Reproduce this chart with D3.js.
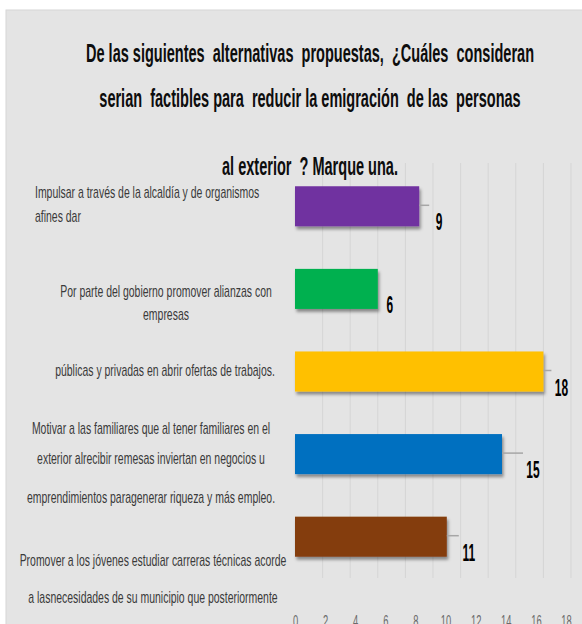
<!DOCTYPE html>
<head>
    <meta charset="utf-8">
    <script src="https://d3js.org/d3.v7.min.js"></script>
    <style>
        body { margin:0;position:fixed;top:0;right:0;bottom:0;left:0;background:white; }

        .panel { fill: #e4e4e4; stroke: #d6d6d6; }
        .grid-line { stroke: #d5d5d5; stroke-width: 1; }
        .title { font-family: 'Liberation Sans', Arial, sans-serif; font-weight: bold; font-size: 26px; fill: #0d0d0d; white-space: pre; }
        .cat-label { font-family: 'Liberation Sans', Arial, sans-serif; font-size: 17px; fill: #3a3a3a; }
        .value-label { font-family: 'Liberation Sans', Arial, sans-serif; font-weight: bold; font-size: 23px; fill: #000; }
        .leader { stroke: #a6a6a6; stroke-width: 1.5; }
        .axis text { font-family: 'Liberation Sans', Arial, sans-serif; font-size: 17px; fill: #6b6b6b; }
    </style>
</head>

<body>
  <script>
    // data
    const titleLines = [
        'De las siguientes  alternativas  propuestas,  ¿Cuáles  consideran',
        'serian  factibles para  reducir la emigración  de las  personas',
        'al exterior  ? Marque una.'
    ];
    const categories = [
        ['Impulsar a través de la alcaldía y de organismos', 'afines dar'],
        ['Por parte del gobierno promover alianzas con', 'empresas'],
        ['públicas y privadas en abrir ofertas de trabajos.'],
        ['Motivar a las familiares que al tener familiares en el',
         'exterior alrecibir remesas inviertan en negocios u',
         'emprendimientos paragenerar riqueza y más empleo.'],
        ['Promover a los jóvenes estudiar carreras técnicas acorde',
         'a lasnecesidades de su municipio que posteriormente']
    ];
    const values = [9, 6, 18, 15, 11];
    const colors = ['#7030a0', '#00b050', '#ffc000', '#0070c0', '#843c0c'];
    const xTicks = [0, 2, 4, 6, 8, 10, 12, 14, 16, 18];
    const gridTicks = [2, 4, 6, 8, 10, 12, 14, 16, 18, 20];

    // layout (label placement as it sits in the picture)
    const titleX = 310;
    const titleY = [62, 107, 175];
    const titleWidth = 448;
    const labelLayout = [
        {anchor: 'start', x: 35, dy: [-14, 10]},
        {anchor: 'middle', x: 166, dy: [2, 25]},
        {anchor: 'middle', x: 165, dy: [-1]},
        {anchor: 'middle', x: 151, dy: [-26, 4, 43]},
        {anchor: 'middle', x: 153, dy: [23, 60]}
    ];
    const valueDx = [20, 12, 18, 31, 22];

    const width = 582;
    const height = 624;

    const xScale = d3.scaleLinear().domain([0, 20]).range([295, 571]);
    const tickScale = d3.scaleLinear().domain([0, 18]).range([295, 566]);
    const yScale = d3.scaleBand()
        .domain(d3.range(values.length))
        .range([165, 578])
        .paddingInner(0.515)
        .paddingOuter(0.2575);

    const svg = d3.select('body').append('svg')
        .attr('width', width)
        .attr('height', height);

    const defs = svg.append('defs');
    defs.append('filter')
        .attr('id', 'shadow')
        .attr('x', '-10%').attr('y', '-20%')
        .attr('width', '130%').attr('height', '160%')
      .append('feDropShadow')
        .attr('dx', 1.5).attr('dy', 3)
        .attr('stdDeviation', 1.6)
        .attr('flood-color', '#000')
        .attr('flood-opacity', 0.4);

    svg.append('rect')
        .attr('class', 'panel')
        .attr('x', 6).attr('y', 10)
        .attr('width', width).attr('height', height);

    // squeeze text horizontally, the picture is narrow
    function squeeze(selection, k) {
        selection.each(function() {
            const w = this.getComputedTextLength();
            d3.select(this)
                .attr('textLength', w * k)
                .attr('lengthAdjust', 'spacingAndGlyphs');
        });
    }

    svg.append('g')
        .selectAll('line')
        .data(gridTicks)
        .enter().append('line')
        .attr('class', 'grid-line')
        .attr('x1', d => xScale(d)).attr('x2', d => xScale(d))
        .attr('y1', 163).attr('y2', 578);

    const title = svg.append('g')
        .selectAll('text')
        .data(titleLines)
        .enter().append('text')
        .attr('class', 'title')
        .attr('x', titleX)
        .attr('y', (d, i) => titleY[i])
        .attr('text-anchor', 'middle')
        .text(d => d);
    const titleK = titleWidth / title.node().getComputedTextLength();
    title.call(squeeze, titleK);

    const bars = svg.append('g');
    bars.selectAll('rect')
        .data(values)
        .enter().append('rect')
        .attr('x', xScale(0))
        .attr('y', (d, i) => yScale(i))
        .attr('width', d => xScale(d) - xScale(0))
        .attr('height', yScale.bandwidth())
        .attr('fill', (d, i) => colors[i])
        .attr('filter', 'url(#shadow)');

    const mid = i => yScale(i) + yScale.bandwidth() / 2;
    const labelX = (d, i) => xScale(d) + valueDx[i];

    svg.append('g')
        .selectAll('line')
        .data(values.map((d, i) => ({d, i})).filter(o => labelX(o.d, o.i) - 10 - xScale(o.d) > 3))
        .enter().append('line')
        .attr('class', 'leader')
        .attr('x1', o => xScale(o.d))
        .attr('x2', o => labelX(o.d, o.i) - 10)
        .attr('y1', o => mid(o.i) - 1)
        .attr('y2', o => mid(o.i) - 1);

    svg.append('g')
        .selectAll('text')
        .data(values)
        .enter().append('text')
        .attr('class', 'value-label')
        .attr('x', labelX)
        .attr('y', (d, i) => mid(i) + 16)
        .attr('dy', '0.35em')
        .attr('text-anchor', 'middle')
        .text(d => d)
        .call(squeeze, 0.52);

    const catG = svg.append('g');
    categories.forEach((lines, i) => {
        const lay = labelLayout[i];
        catG.selectAll(null)
            .data(lines)
            .enter().append('text')
            .attr('class', 'cat-label')
            .attr('x', lay.x)
            .attr('y', (d, j) => mid(i) + lay.dy[j])
            .attr('dy', '0.35em')
            .attr('text-anchor', lay.anchor)
            .text(d => d)
            .call(squeeze, 0.615);
    });

    const xAxis = svg.append('g')
        .attr('class', 'axis')
        .attr('transform', 'translate(0,605)')
        .call(d3.axisBottom(tickScale).tickValues(xTicks).tickSize(0).tickPadding(0));
    xAxis.select('.domain').remove();
    xAxis.selectAll('text').attr('dy', '1.3em').call(squeeze, 0.55);
  </script>
</body>
